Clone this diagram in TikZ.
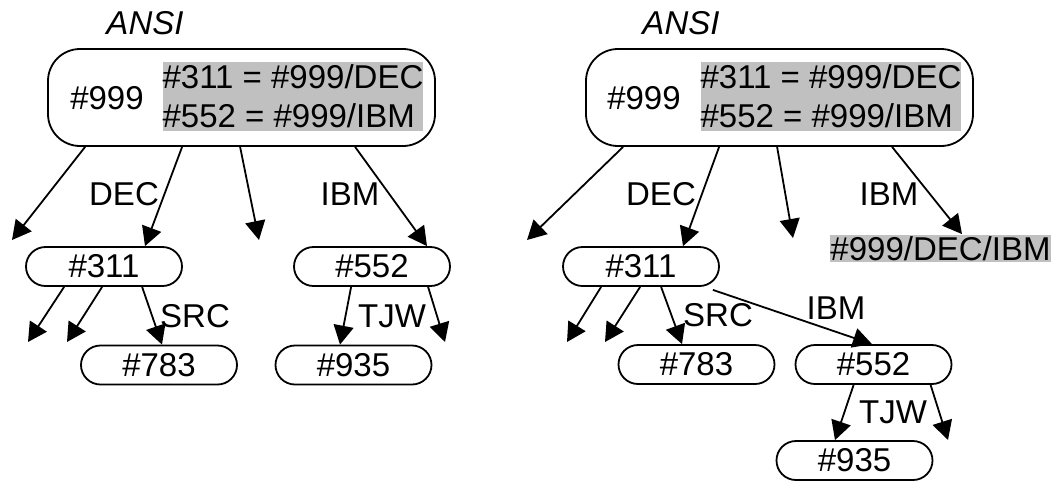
\documentclass[tikz,border=0pt]{standalone}
\usepackage{fontspec}
\setmainfont{Liberation Sans}
\usetikzlibrary{arrows.meta}
\definecolor{silver}{HTML}{C0C0C0}
\begin{document}
\begin{tikzpicture}[x=1pt,y=-1pt,>={Triangle[length=19pt,width=20pt]},line width=1.8pt,
  font=\fontsize{33}{39}\selectfont,
  leaf/.style={draw,rounded corners=19.5pt,minimum width=156pt,minimum height=39pt,inner sep=0pt},
  root/.style={draw,rounded corners=32pt,minimum width=387pt,minimum height=97pt},
  hilite/.style={fill=silver,inner sep=0pt}]
\useasboundingbox (0,0) rectangle (1052,480);
% left tree
\node (ansiL) at (145,23) {\itshape ANSI};
\node[root] (topL) at (241.5,97.5) {};
\node (n999L) at (107,98) {\#999};
\node[hilite,minimum width=260pt,minimum height=69pt,align=left] (mapL) at (293,96.5) {\#311 = \#999/DEC\\\#552 = \#999/IBM};
\node[leaf] (n311L) at (104,266.5) {\#311};
\node[leaf] (n552L) at (372,266.5) {\#552};
\node[leaf] (n783L) at (159,365) {\#783};
\node[leaf] (n935L) at (353.5,365) {\#935};
\node (decL) at (124,194) {DEC};
\node (ibmL) at (350,194) {IBM};
\node (srcL) at (195,316) {SRC};
\node (tjwL) at (392,316) {TJW};
\coordinate (fL1) at (12,240);
\coordinate (fL2) at (259,240);
\coordinate (fL3) at (28,342);
\coordinate (fL4) at (67,342);
\coordinate (fL5) at (445,342);
\draw[->] ([xshift=38pt]topL.south west) -- (fL1);
\draw[->] ([xshift=135pt]topL.south west) -- ([xshift=41pt]n311L.north);
\draw[->] ([xshift=193pt]topL.south west) -- (fL2);
\draw[->] ([xshift=308pt]topL.south west) -- ([xshift=55pt]n552L.north);
\draw[->] ([xshift=39pt]n311L.south west) -- (fL3);
\draw[->] ([xshift=77pt]n311L.south west) -- (fL4);
\draw[->] ([xshift=117pt]n311L.south west) -- ([xshift=3pt]n783L.north);
\draw[->] ([xshift=58pt]n552L.south west) -- ([xshift=-13.5pt]n935L.north);
\draw[->] ([xshift=135pt]n552L.south west) -- (fL5);
% right tree
\node (ansiR) at (681,23) {\itshape ANSI};
\node[root] (topR) at (779.5,97.5) {};
\node (n999R) at (644,98) {\#999};
\node[hilite,minimum width=258pt,minimum height=69pt,align=left] (mapR) at (831,96.5) {\#311 = \#999/DEC\\\#552 = \#999/IBM};
\node[hilite,minimum width=213pt,minimum height=27pt] (pathR) at (940.5,248.5) {\#999/DEC/IBM};
\node[leaf] (n311R) at (641,266.5) {\#311};
\node[leaf] (n783R) at (696.5,364.5) {\#783};
\node[leaf] (n552R) at (873.5,364.5) {\#552};
\node[leaf] (n935R) at (854.5,460.5) {\#935};
\node (decR) at (661,194) {DEC};
\node (ibmR) at (889,194) {IBM};
\node (srcR) at (718,315) {SRC};
\node (ibmR2) at (836,308) {IBM};
\node (tjwR) at (893,412) {TJW};
\coordinate (fR1) at (527,240);
\coordinate (fR2) at (793,238);
\coordinate (fR3) at (567,342);
\coordinate (fR4) at (605,342);
\coordinate (fR5) at (948,440);
\draw[->] ([xshift=38pt]topR.south west) -- (fR1);
\draw[->] ([xshift=134pt]topR.south west) -- ([xshift=42pt]n311R.north);
\draw[->] ([xshift=192pt]topR.south west) -- (fR2);
\draw[->] ([xshift=307pt]topR.south west) -- ([xshift=21.5pt]pathR.north);
\draw[->] ([xshift=39pt]n311R.south west) -- (fR3);
\draw[->] ([xshift=78pt]n311R.south west) -- (fR4);
\draw[->] ([xshift=99pt]n311R.south west) -- ([xshift=-14.5pt]n783R.north);
\draw[->] ([xshift=-7pt,yshift=-3pt]n311R.south east) -- ([xshift=-1.5pt]n552R.north);
\draw[->] ([xshift=59pt]n552R.south west) -- ([xshift=-19.5pt]n935R.north);
\draw[->] ([xshift=136pt]n552R.south west) -- (fR5);
\end{tikzpicture}
\end{document}
